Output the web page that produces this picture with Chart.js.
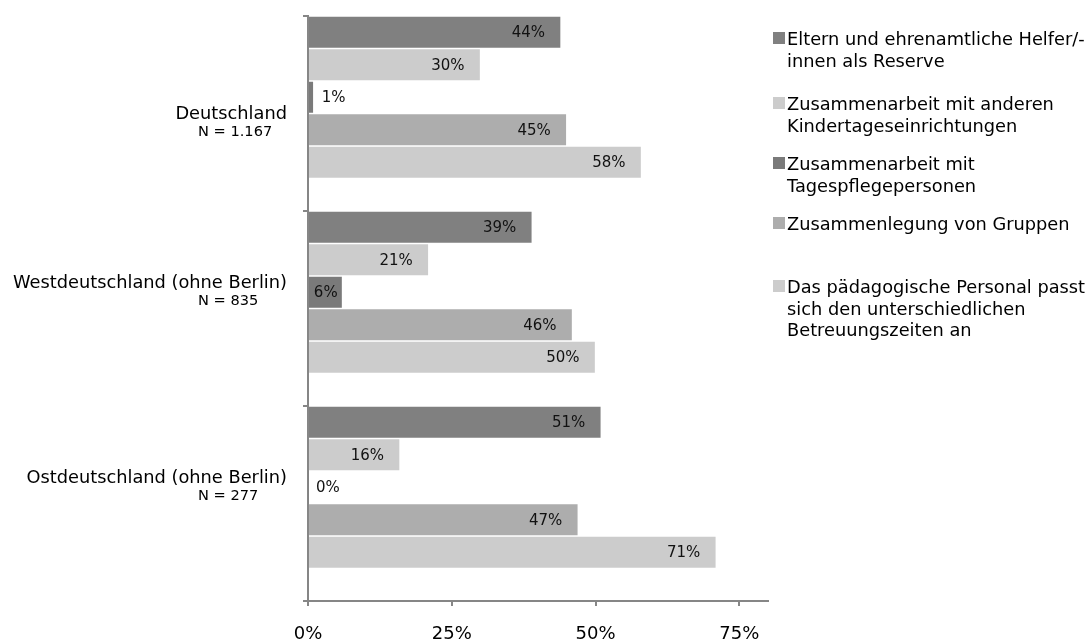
<!DOCTYPE html>
<html>
<head>
<meta charset="utf-8">
<script src="https://cdn.jsdelivr.net/npm/chart.js@4.4.0/dist/chart.umd.min.js"></script>
<style>
  html, body { margin: 0; padding: 0; background: #fff; }
  #wrap { position: relative; width: 1089px; height: 642px; overflow: hidden; }
  #chart { position: absolute; left: 0; top: 0; }
  .item { position: absolute; left: 773px; font-family: 'DejaVu Sans', sans-serif; font-size: 17.8px;
          line-height: 21.5px; color: #000; white-space: nowrap; padding-left: 14px; }
  .sw { position: absolute; left: 0; top: 4px; width: 12px; height: 12px; }
</style>
</head>
<body>
<div id="wrap">
  <canvas id="chart" width="1089" height="642"></canvas>
  <div id="legend"></div>
</div>
<script>
// Regions and their sample sizes
const categories = ['Deutschland', 'Westdeutschland (ohne Berlin)', 'Ostdeutschland (ohne Berlin)'];
const sampleSizes = ['N = 1.167', 'N = 835', 'N = 277'];

// Legend texts, one entry per line
const seriesNames = [
  ['Eltern und ehrenamtliche Helfer/-', 'innen als Reserve'],
  ['Zusammenarbeit mit anderen', 'Kindertageseinrichtungen'],
  ['Zusammenarbeit mit', 'Tagespflegepersonen'],
  ['Zusammenlegung von Gruppen'],
  ['Das pädagogische Personal passt', 'sich den unterschiedlichen', 'Betreuungszeiten an']
];

// Shares in percent, per region
const elternHelfer     = [44, 39, 51];
const andereKitas      = [30, 21, 16];
const tagespflege      = [1, 6, 0];
const gruppen          = [45, 46, 47];
const betreuungszeiten = [58, 50, 71];

// Axis tick values (percent)
const xTicks = [0, 25, 50, 75];

const seriesValues = [elternHelfer, andereKitas, tagespflege, gruppen, betreuungszeiten];
const seriesColors = ['#808080', '#cccccc', '#7a7a7a', '#adadad', '#cccccc'];
const legendTops = [28, 93, 153, 213, 276];

const FONT = "'DejaVu Sans', sans-serif";
const AXIS = '#868686';

// HTML legend on the right
const legendEl = document.getElementById('legend');
seriesNames.forEach((lines, i) => {
  const it = document.createElement('div');
  it.className = 'item';
  it.style.top = legendTops[i] + 'px';
  const sw = document.createElement('span');
  sw.className = 'sw';
  sw.style.background = seriesColors[i];
  it.appendChild(sw);
  lines.forEach((ln, k) => {
    if (k) it.appendChild(document.createElement('br'));
    it.appendChild(document.createTextNode(ln));
  });
  legendEl.appendChild(it);
});

const datasets = seriesValues.map((vals, i) => ({
  label: seriesNames[i].join(' '),
  data: vals,
  backgroundColor: seriesColors[i],
  borderColor: 'rgba(255,255,255,0.45)',
  borderWidth: ctx => (ctx.raw ? 1 : 0),
  borderSkipped: 'start'
}));
// empty slot below each group of bars
datasets.push({ label: '', data: categories.map(() => null), backgroundColor: 'transparent' });

// value labels at the inner end of each bar
const valueLabels = {
  id: 'valueLabels',
  afterDatasetsDraw(chart) {
    const ctx = chart.ctx;
    ctx.save();
    ctx.font = '15px ' + FONT;
    ctx.fillStyle = '#111';
    ctx.textBaseline = 'middle';
    seriesValues.forEach((vals, di) => {
      const meta = chart.getDatasetMeta(di);
      meta.data.forEach((el, j) => {
        const v = vals[j];
        if (v === null || v === undefined) return;
        const txt = v + '%';
        const tw = ctx.measureText(txt).width;
        const len = el.x - el.base;
        if (len >= tw + 8) {
          const pad = Math.min(16, (len - tw) / 2);
          ctx.textAlign = 'right';
          ctx.fillText(txt, el.x - pad, el.y + 1);
        } else {
          ctx.textAlign = 'left';
          ctx.fillText(txt, el.x + 8, el.y + 1);
        }
      });
    });
    ctx.restore();
  }
};

// two-line region labels left of the axis
const regionLabels = {
  id: 'regionLabels',
  afterDraw(chart, args, opts) {
    const ctx = chart.ctx;
    const left = chart.chartArea.left;
    const first = chart.getDatasetMeta(0).data;
    const last = chart.getDatasetMeta(seriesValues.length - 1).data;
    ctx.save();
    ctx.fillStyle = '#000';
    ctx.textBaseline = 'middle';
    categories.forEach((name, j) => {
      const c = (first[j].y + last[j].y) / 2 + (opts.shift[j] || 0);
      ctx.font = '17.8px ' + FONT;
      ctx.textAlign = 'right';
      ctx.fillText(name, left - 21, c - 8.5);
      ctx.font = '14.6px ' + FONT;
      ctx.textAlign = 'left';
      ctx.fillText(sampleSizes[j], left - 110, c + 8.5);
    });
    ctx.restore();
  }
};

new Chart(document.getElementById('chart'), {
  type: 'bar',
  data: { labels: categories, datasets },
  options: {
    indexAxis: 'y',
    responsive: false,
    animation: false,
    events: [],
    layout: { padding: { top: 16, right: 321, left: 0, bottom: 0 } },
    datasets: { bar: { categoryPercentage: 1, barPercentage: 1 } },
    scales: {
      x: {
        type: 'linear',
        position: 'bottom',
        min: 0,
        max: 80,
        afterBuildTicks: s => { s.ticks = xTicks.map(v => ({ value: v })); },
        afterFit: s => { s.height = 41; },
        ticks: {
          includeBounds: false,
          padding: 18,
          color: '#000',
          font: { family: FONT, size: 18 },
          callback: v => v + '%'
        },
        grid: { drawOnChartArea: false, drawTicks: true, tickLength: 5, color: AXIS, lineWidth: 2 },
        border: { color: AXIS, width: 2 }
      },
      y: {
        type: 'category',
        afterFit: s => { s.width = 308; },
        ticks: { display: false },
        grid: { offset: true, drawOnChartArea: false, drawTicks: true, tickLength: 5, color: AXIS, lineWidth: 2 },
        border: { color: AXIS, width: 2 }
      }
    },
    plugins: {
      legend: { display: false },
      tooltip: { enabled: false },
      regionLabels: { shift: [26, 0, 0] }
    }
  },
  plugins: [valueLabels, regionLabels]
});
</script>
</body>
</html>
